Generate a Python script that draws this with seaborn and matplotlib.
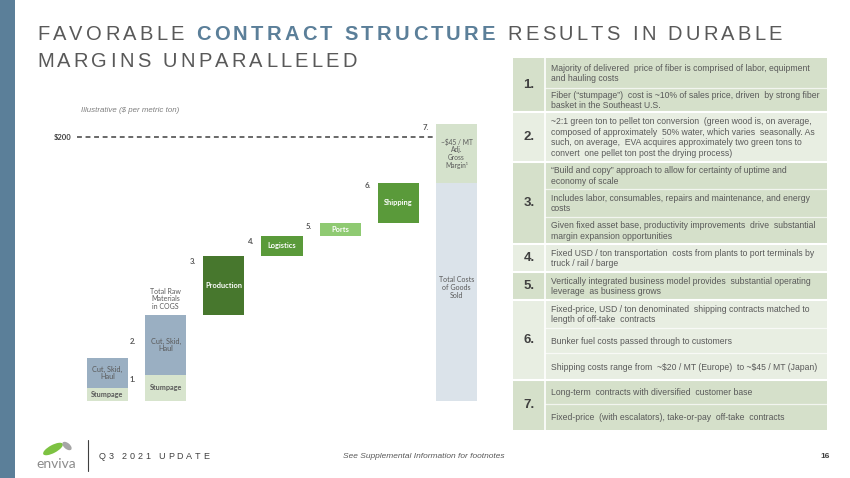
import numpy as np
import pandas as pd
import matplotlib
matplotlib.use("Agg")
import matplotlib.pyplot as plt
from matplotlib.patches import Rectangle, Ellipse
import seaborn as sns

# waterfall, $ per metric ton
stumpage = [10, 20]
cut_skid_haul = [22.5, 45]
step_labels = ["Production", "Logistics", "Ports", "Shipping"]
step_costs = [45, 15, 10, 30]
total_cogs = 165
gross_margin = 45
price_line = 200

table_nums = ["1.", "2.", "3.", "4.", "5.", "6.", "7."]
table_texts = [
    ["Majority of delivered  price of fiber is comprised of labor, equipment\nand hauling costs",
     "Fiber (\u201cstumpage\u201d)  cost is ~10% of sales price, driven  by strong fiber\nbasket in the Southeast U.S."],
    ["~2:1 green ton to pellet ton conversion  (green wood is, on average,\n"
     "composed of approximately  50% water, which varies  seasonally. As\n"
     "such, on average,  EVA acquires approximately two green tons to\n"
     "convert  one pellet ton post the drying process)"],
    ["\u201cBuild and copy\u201d approach to allow for certainty of uptime and\neconomy of scale",
     "Includes labor, consumables, repairs and maintenance, and energy\ncosts",
     "Given fixed asset base, productivity improvements  drive  substantial\nmargin expansion opportunities"],
    ["Fixed USD / ton transportation  costs from plants to port terminals by\ntruck / rail / barge"],
    ["Vertically integrated business model provides  substantial operating\nleverage  as business grows"],
    ["Fixed-price, USD / ton denominated  shipping contracts matched to\nlength of off-take  contracts",
     "Bunker fuel costs passed through to customers",
     "Shipping costs range from  ~\\$20 / MT (Europe)  to ~\\$45 / MT (Japan)"],
    ["Long-term  contracts with diversified  customer base",
     "Fixed-price  (with escalators), take-or-pay  off-take  contracts"],
]

# layout (pixels)
sub_edges = [[58, 88, 112], [112, 162], [162, 189, 217, 244], [244, 272],
             [272, 300], [300, 328, 353, 380], [380, 404, 430]]

sns.set_style("white")
plt.rcParams['font.family'] = ['Liberation Sans', 'DejaVu Sans']

W, H = 850, 478
fig = plt.figure(figsize=(8.5, 4.78), dpi=100)
bg = fig.add_axes([0, 0, 1, 1])
bg.set_xlim(0, W)
bg.set_ylim(H, 0)
bg.axis("off")

GREY = "#595959"
BLUE = "#5b7f99"

bg.add_patch(Rectangle((0, 0), 15, H, color=BLUE, lw=0))

renderer = fig.canvas.get_renderer()


def text_w(s, **kw):
    t = bg.text(0, 0, s, **kw)
    w = t.get_window_extent(renderer=renderer).width
    t.remove()
    return w


def char_ws(s, **kw):
    base = text_w("HH", **kw)
    return [text_w("H" + c + "H", **kw) - base for c in s]


def spaced(x, y, parts, size, target=None, gap=0.0, family="Liberation Sans"):
    widths = []
    for txt, color, weight in parts:
        widths.append(char_ws(txt, fontsize=size, family=family, fontweight=weight))
    n = sum(len(p[0]) for p in parts)
    if target is not None:
        gap = (target - sum(sum(w) for w in widths)) / (n - 1)
    for (txt, color, weight), ws in zip(parts, widths):
        for c, w in zip(txt, ws):
            if c != " ":
                bg.text(x, y, c, fontsize=size, family=family, fontweight=weight,
                        color=color, va="baseline", ha="left")
            x += w + gap
    return gap


# title
g = spaced(37, 40, [("FAVORABLE ", GREY, "normal"), ("CONTRACT STRUCTURE", BLUE, "bold"),
                    (" RESULTS IN DURABLE", GREY, "normal")], 14.5, target=745)
spaced(37, 67, [("MARGINS UNPARALLELED", GREY, "normal")], 14.5, gap=g)

# waterfall chart
px_per_unit = 58.17
ax = fig.add_axes([(107.5 - 0.6 * px_per_unit) / W, (H - 401) / H,
                   7.2 * px_per_unit / W, 220 * 1.32 / H])
ax.set_xlim(-0.6, 6.6)
ax.set_ylim(0, 220)
ax.axis("off")

bw = 0.71
c_stump, c_csh = "#d7e4cd", "#9aafc2"
step_colors = ["#47772d", "#5a9a3a", "#8fca72", "#5a9a3a"]

ax.bar([0, 1], stumpage, width=bw, color=c_stump, lw=0)
ax.bar([0, 1], cut_skid_haul, bottom=stumpage, width=bw, color=c_csh, lw=0)

raw_total = stumpage[1] + cut_skid_haul[1]
bottoms = raw_total + np.concatenate([[0], np.cumsum(step_costs)[:-1]])
steps = pd.DataFrame({"label": step_labels, "cost": step_costs, "bottom": bottoms,
                      "x": np.arange(2, 6)})
ax.bar(steps["x"], steps["cost"], bottom=steps["bottom"], width=bw, color=step_colors, lw=0)

ax.bar(6, total_cogs, width=bw, color="#dbe3ea", lw=0)
ax.bar(6, gross_margin, bottom=total_cogs, width=bw, color="#d5e2cc", lw=0)

lab = dict(family="Lato", ha="center", va="center", linespacing=1.1)
for i in range(2):
    ax.text(i, stumpage[i] / 2, "Stumpage", fontsize=5.2, color=GREY, fontweight="bold", **lab)
    ax.text(i, stumpage[i] + cut_skid_haul[i] / 2, "Cut, Skid,\nHaul", fontsize=5.2, color=GREY, **lab)
for _, r in steps.iterrows():
    ax.text(r["x"], r["bottom"] + r["cost"] / 2, r["label"], fontsize=5.3, color="white",
            fontweight="bold", **lab)
ax.text(1, raw_total + 4, "Total Raw\nMaterials\nin COGS", fontsize=5, color=GREY,
        family="Lato", ha="center", va="bottom", linespacing=1.1)
ax.text(6, 86, "Total Costs\nof Goods\nSold", fontsize=5.1, color=GREY, **lab)
ax.text(6, total_cogs + gross_margin / 2, "~\\$45 / MT\nAdj.\nGross\nMargin\u00b9",
        fontsize=4.8, color=GREY, **lab)

ax.plot([-0.52, 6 - bw / 2], [price_line, price_line], color="#404040", lw=1.1,
        linestyle=(0, (3.2, 2.4)))

bg.text(71, 137, "\\$200", fontsize=5.5, fontweight="bold", color="#404040",
        family="Lato", ha="right", va="center")
bg.text(81, 110, "Illustrative (\\$ per metric ton)", fontsize=5.7, style="italic",
        color="#7f7f7f", va="center")

step_nums = [("1.", 133, 379), ("2.", 133, 342), ("3.", 193, 261), ("4.", 251, 241),
             ("5.", 309, 226), ("6.", 368, 186), ("7.", 426, 127)]
for s, x, y in step_nums:
    bg.text(x, y, s, fontsize=5.6, fontweight="bold", color=GREY, family="Lato",
            ha="center", va="center")

# table
t_left, t_div, t_right = 513, 545, 827
for i, (num, texts, edges) in enumerate(zip(table_nums, table_texts, sub_edges)):
    fill = "#d5e0ca" if i % 2 == 0 else "#e8eee2"
    bg.add_patch(Rectangle((t_left, edges[0]), t_right - t_left, edges[-1] - edges[0],
                           color=fill, lw=0))
    bg.text((t_left + t_div) / 2, (edges[0] + edges[-1]) / 2, num, fontsize=9.5,
            fontweight="bold", color="#404040", ha="center", va="center")
    for j, txt in enumerate(texts):
        bg.text(551, (edges[j] + edges[j + 1]) / 2 + 0.5, txt, fontsize=6.2, color=GREY,
                ha="left", va="center", linespacing=1.22)
        if j > 0:
            bg.plot([t_div, t_right], [edges[j], edges[j]], color="white", lw=0.9, alpha=0.7)
    if i > 0:
        bg.plot([t_left, t_right], [edges[0], edges[0]], color="white", lw=1.5)
bg.plot([t_div, t_div], [sub_edges[0][0], sub_edges[-1][-1]], color="white", lw=1.2)

# footer
bg.add_patch(Ellipse((53, 449), 22, 8, angle=-28, color="#7dc242", lw=0))
bg.add_patch(Ellipse((67, 446), 11, 6, angle=40, color="#a6a6a6", lw=0))
bg.text(56, 464, "enviva", fontsize=10, color="#8c8c8c", family="Lato",
        ha="center", va="center")
bg.plot([88, 88], [440, 471], color="#404040", lw=0.8)
spaced(99, 459, [("Q3 2021 UPDATE", "#404040", "normal")], 6.5, target=110)
bg.text(424, 456, "See Supplemental Information for footnotes", fontsize=6, style="italic",
        color=GREY, ha="center", va="center")
bg.text(830, 456, "16", fontsize=6, fontweight="bold", color="#404040",
        ha="right", va="center")

fig.savefig("out.png", dpi=100)
